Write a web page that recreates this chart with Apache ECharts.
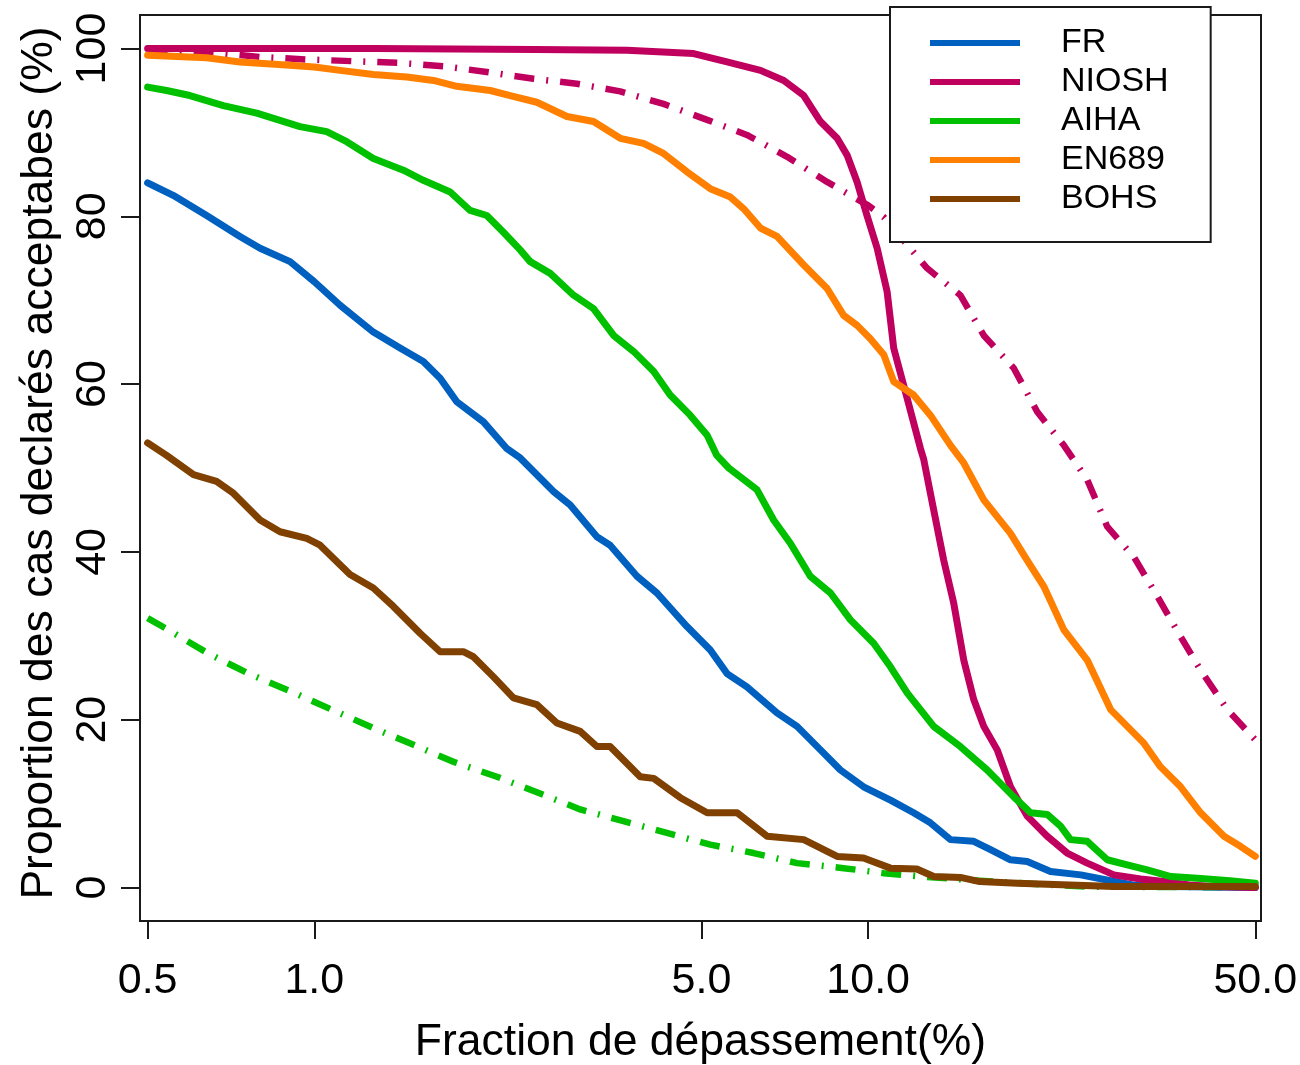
<!DOCTYPE html>
<html><head><meta charset="utf-8">
<script src="https://cdn.jsdelivr.net/npm/echarts@6/dist/echarts.min.js"></script>
<style>html,body{margin:0;padding:0;background:#fff}#c{width:1300px;height:1065px}</style>
</head><body><div id="c"></div>
<script>
// ---- data (x = fraction de dépassement %, y = proportion %) ----
const xTicks = [0.5, 1, 5, 10, 50];
const yTicks = [0, 20, 40, 60, 80, 100];
const legendNames = ['FR', 'NIOSH', 'AIHA', 'EN689', 'BOHS'];

const FR = [[0.5,84.0],[0.556,82.5],[0.639,80.1],[0.734,77.6],[0.798,76.2],[0.904,74.6],[1.0,72.2],[1.113,69.4],[1.278,66.2],[1.428,64.3],[1.573,62.7],[1.687,60.7],[1.808,57.9],[2.02,55.5],[2.227,52.3],[2.353,51.2],[2.703,47.2],[2.897,45.6],[3.237,41.8],[3.42,40.8],[3.824,37.1],[4.155,35.1],[4.708,31.1],[5.187,28.3],[5.56,25.5],[6.04,23.9],[6.845,20.8],[7.44,19.2],[8.2,16.4],[8.91,14.0],[9.81,12.0],[10.97,10.4],[12.08,8.9],[12.95,7.7],[14.08,5.7],[15.51,5.5],[16.63,4.5],[18.07,3.3],[19.37,3.1],[21.34,1.9],[24.2,1.5],[27.4,0.8],[30,0.3],[35,0.1],[50,0.0]];

const NIOSH = [[0.5,100],[1.28,100],[2.5,99.9],[3.67,99.8],[4.84,99.4],[5.56,98.4],[6.39,97.4],[7.04,96.2],[7.65,94.4],[8.2,91.3],[8.79,89.3],[9.16,87.3],[9.55,84.1],[9.95,80.1],[10.38,76.2],[10.82,71.0],[11.12,64.3],[11.76,58.3],[12.43,52.3],[12.6,51.0],[13.13,45.0],[13.69,39.0],[14.27,33.9],[14.88,27.1],[15.51,22.4],[16.17,19.2],[17.1,16.4],[18.07,12.0],[19.37,8.5],[21.05,6.1],[22.87,4.1],[24.86,2.9],[27.77,1.5],[31.03,1.0],[34.2,0.7],[38,0.3],[42,0.1],[50,0.0]];

const NIOSH_DD = [[0.5,99.7],[0.639,99.6],[0.798,99.0],[0.969,98.7],[1.168,98.5],[1.418,98.3],[1.711,97.9],[2.048,97.2],[2.487,96.4],[2.979,95.8],[3.567,94.9],[4.27,93.4],[5.12,91.5],[6.04,89.7],[7.14,87.1],[8.43,84.1],[10.0,81.3],[10.67,79.9],[12.78,73.8],[14.67,70.6],[16.17,65.8],[18.32,61.9],[20.19,56.7],[22.56,52.7],[24.86,48.6],[27.02,43.0],[30.18,39.4],[33.27,34.7],[36.65,29.9],[39.83,25.9],[44.5,21.2],[50,17.6]];

const AIHA = [[0.5,95.4],[0.541,95.0],[0.596,94.4],[0.685,93.2],[0.787,92.3],[0.942,90.7],[1.053,90.1],[1.144,88.9],[1.278,86.9],[1.448,85.5],[1.573,84.3],[1.759,82.9],[1.911,80.7],[2.048,80.1],[2.195,78.1],[2.353,76.0],[2.453,74.6],[2.666,73.2],[2.938,70.6],[3.192,69.0],[3.47,65.8],[3.77,63.9],[4.1,61.5],[4.39,58.7],[4.77,56.3],[5.12,53.9],[5.33,51.5],[5.6,50.0],[6.3,47.4],[6.75,43.8],[7.24,41.0],[7.86,37.1],[8.55,35.1],[9.29,31.9],[10.23,29.1],[10.97,26.3],[11.76,23.2],[13.13,19.2],[14.67,16.8],[16.4,14.0],[18.32,10.8],[19.64,8.9],[21.05,8.7],[22.25,7.3],[23.19,5.7],[24.86,5.5],[27.02,3.3],[29.36,2.7],[31.9,2.1],[35.2,1.3],[39.3,1.1],[45,0.8],[50,0.5]];

const AIHA_DD = [[0.5,32.1],[0.545,30.7],[0.643,27.9],[0.76,25.5],[0.904,23.4],[1.075,21.2],[1.278,19.0],[1.51,17.0],[1.796,14.9],[2.136,13.2],[2.557,11.2],[3.02,9.3],[3.616,7.9],[4.33,6.5],[5.187,5.1],[6.21,4.1],[7.44,2.9],[9.03,2.3],[10.67,1.7],[12.5,1.3],[15.9,0.8],[20,0.4],[25,0.1],[50,0.0]];

const EN689 = [[0.5,99.2],[0.639,98.9],[0.734,98.4],[0.904,98.0],[1.0,97.8],[1.113,97.4],[1.278,96.9],[1.469,96.6],[1.641,96.2],[1.808,95.5],[2.078,95.0],[2.257,94.4],[2.522,93.6],[2.858,91.9],[3.192,91.3],[3.567,89.3],[3.93,88.7],[4.27,87.5],[4.708,85.3],[5.187,83.3],[5.64,82.3],[5.96,80.9],[6.39,78.6],[6.845,77.6],[7.65,74.2],[8.43,71.4],[9.03,68.2],[9.55,67.0],[10.09,65.4],[10.67,63.5],[11.12,60.3],[12.08,58.7],[12.95,56.3],[14.08,52.7],[14.88,50.6],[16.17,46.2],[18.07,42.2],[19.37,39.0],[20.75,35.9],[22.56,30.7],[24.86,27.1],[27.4,21.2],[31.46,17.2],[33.7,14.4],[36.65,12.0],[39.83,8.9],[43.9,6.1],[47.0,4.9],[50,3.7]];

const BOHS = [[0.5,53.0],[0.541,51.5],[0.605,49.2],[0.666,48.4],[0.714,47.0],[0.798,43.8],[0.867,42.4],[0.969,41.6],[1.024,40.8],[1.16,37.3],[1.278,35.7],[1.389,33.5],[1.552,30.3],[1.687,28.1],[1.858,28.1],[1.937,27.5],[2.106,25.1],[2.288,22.6],[2.522,21.8],[2.741,19.6],[3.02,18.6],[3.237,16.8],[3.42,16.8],[3.876,13.2],[4.1,13.0],[4.58,10.7],[5.12,8.9],[5.8,8.9],[6.57,6.1],[7.65,5.7],[8.79,3.7],[9.81,3.5],[10.97,2.3],[12.24,2.2],[13.13,1.3],[14.67,1.2],[15.9,0.7],[18.6,0.5],[27.8,0.1],[50,0.1]];

// ---- styling ----
const FONT = '"Liberation Sans", Arial, Helvetica, sans-serif';
const COL = {FR:'#0060C0', NIOSH:'#C0005F', AIHA:'#00C000', EN689:'#FF8000', BOHS:'#7F4000'};
const DOTDASH = [20, 12, 2, 12];

function solid(name, data) {
  return {name, type:'line', data, symbol:'none', showSymbol:false, silent:true,
    color: COL[name],
    lineStyle:{color:COL[name], width:7, cap:'round', join:'round'}};
}
function dotdash(name, col, data) {
  return {name, type:'line', data, symbol:'none', showSymbol:false, silent:true,
    color: col,
    lineStyle:{color:col, width:6.5, type:DOTDASH, cap:'butt', join:'round'}};
}

const chart = echarts.init(document.getElementById('c'), null, {renderer:'canvas'});
chart.setOption({
  animation:false,
  backgroundColor:'#ffffff',
  textStyle:{fontFamily:FONT, color:'#000'},
  grid:{left:140, right:39, top:15, bottom:144, show:true, borderColor:'#1a1a1a', borderWidth:2,
        backgroundColor:'transparent', containLabel:false, outerBoundsMode:'none'},
  xAxis:{
    type:'log', logBase:10, min:0.4844, max:51.2,
    name:'Fraction de dépassement(%)', nameLocation:'middle', nameGap:99,
    nameTextStyle:{fontSize:44.5, fontFamily:FONT, color:'#000'},
    axisLine:{show:false, onZero:false},
    axisTick:{show:true, inside:false, length:18, customValues:xTicks, lineStyle:{color:'#1a1a1a', width:2}},
    axisLabel:{customValues:xTicks, margin:39, fontSize:43, fontFamily:FONT, color:'#000',
      formatter:(v)=>Number(v).toFixed(1)},
    splitLine:{show:false}, minorTick:{show:false}, minorSplitLine:{show:false}
  },
  yAxis:{
    type:'value', min:-4, max:104,
    name:'Proportion des cas declarés acceptabes (%)', nameLocation:'middle', nameGap:78, nameRotate:90,
    nameTextStyle:{fontSize:44.5, fontFamily:FONT, color:'#000', padding:[0,0,0,10]},
    axisLine:{show:false, onZero:false},
    axisTick:{show:true, inside:false, length:19, customValues:yTicks, lineStyle:{color:'#1a1a1a', width:2}},
    axisLabel:{customValues:yTicks, rotate:90, margin:25, fontSize:43, fontFamily:FONT, color:'#000'},
    splitLine:{show:false}
  },
  legend:{
    data:legendNames, orient:'vertical', left:890, top:7,
    icon:'rect', itemWidth:90, itemHeight:6, itemGap:5,
    padding:[19,42,26,40],
    backgroundColor:'#ffffff', borderColor:'#1a1a1a', borderWidth:2, borderRadius:0,
    textStyle:{fontSize:34, fontFamily:FONT, color:'#000', lineHeight:26, padding:[7,0,0,36]},
    selectedMode:false
  },
  series:[
    dotdash('NIOSH dotdash', COL.NIOSH, NIOSH_DD),
    dotdash('AIHA dotdash', COL.AIHA, AIHA_DD),
    solid('FR', FR),
    solid('NIOSH', NIOSH),
    solid('AIHA', AIHA),
    solid('EN689', EN689),
    solid('BOHS', BOHS)
  ]
});
</script>
</body></html>
